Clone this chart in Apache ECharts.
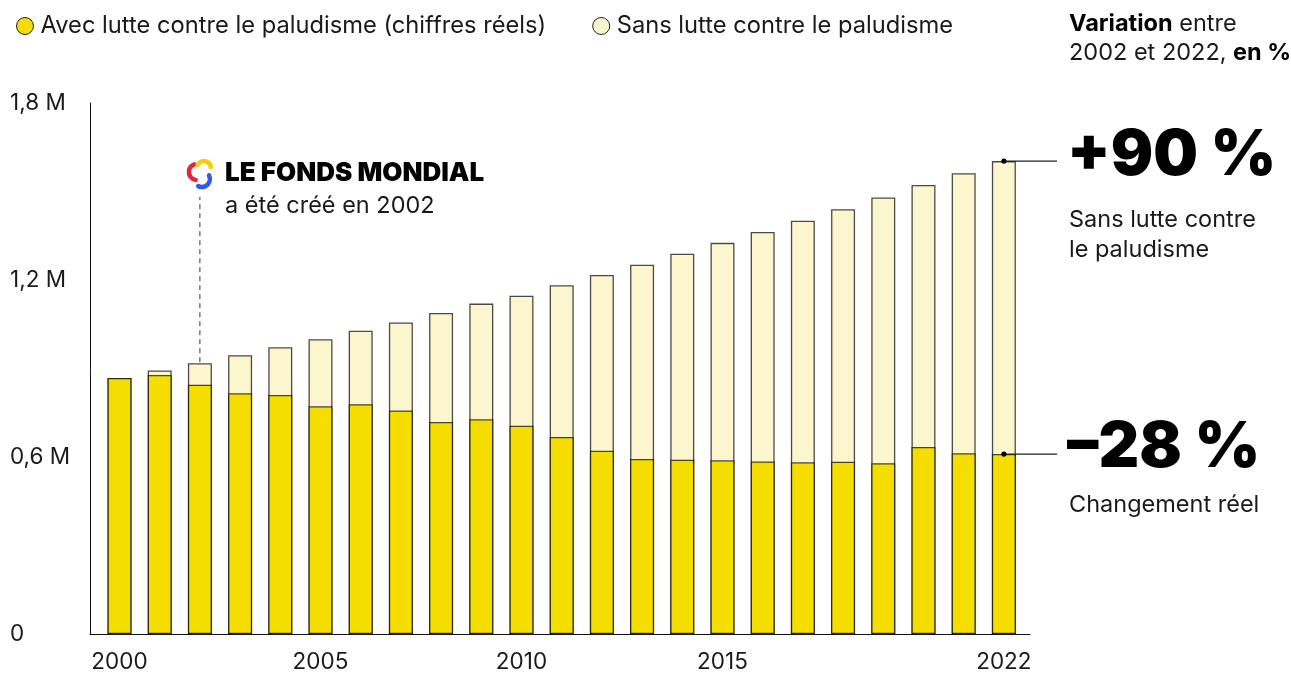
<!DOCTYPE html>
<html>
<head>
  <meta charset="utf-8">
  <title>Paludisme</title>
  <script src="https://cdn.jsdelivr.net/npm/echarts@6/dist/echarts.min.js"></script>
  <style>
    html, body { margin: 0; padding: 0; background: #fff; }
    #main { width: 1291px; height: 675px; }
  </style>
</head>
<body>
<div id="main"></div>
<script type="text/javascript">
  // années et valeurs (en millions de décès)
  var years = [2000, 2001, 2002, 2003, 2004, 2005, 2006, 2007, 2008, 2009, 2010,
               2011, 2012, 2013, 2014, 2015, 2016, 2017, 2018, 2019, 2020, 2021, 2022];
  var avecLutte = [0.868, 0.878, 0.845, 0.816, 0.810, 0.772, 0.779, 0.758, 0.719, 0.728, 0.706,
                   0.668, 0.621, 0.593, 0.591, 0.589, 0.585, 0.582, 0.584, 0.579, 0.634, 0.613, 0.610];
  var sansLutte = [0.868, 0.893, 0.918, 0.945, 0.972, 0.999, 1.028, 1.056, 1.088, 1.120, 1.147,
                   1.182, 1.217, 1.252, 1.289, 1.326, 1.363, 1.401, 1.440, 1.480, 1.522, 1.562, 1.603];
  var yTicks = [0, 0.6, 1.2, 1.8];
  var xTicks = [2000, 2005, 2010, 2015, 2022];

  var nomAvec = 'Avec lutte contre le paludisme (chiffres réels)';
  var nomSans = 'Sans lutte contre le paludisme';
  var police = 'Inter, "Noto Sans", sans-serif';
  var encre = '#1a1a1a';

  function paires(vals) {
    return years.map(function (y, i) { return [y, vals[i]]; });
  }

  var myChart = echarts.init(document.getElementById('main'));

  var option = {
    animation: false,
    textStyle: { fontFamily: police, color: encre },
    legend: {
      data: [nomAvec, nomSans],
      left: 11,
      top: 9,
      icon: 'circle',
      itemWidth: 17,
      itemHeight: 17,
      itemGap: 46,
      itemStyle: { borderColor: '#222', borderWidth: 1 },
      textStyle: { fontSize: 23.7, color: encre, fontFamily: police, padding: [0, 0, 0, 2] },
      selectedMode: false
    },
    grid: { left: 90, right: 261, top: 103, bottom: 41 },
    xAxis: {
      type: 'value',
      min: 1999.266,
      max: 2022.65,
      splitLine: { show: false },
      axisTick: { show: false },
      axisLine: { show: true, lineStyle: { color: '#111', width: 1 } },
      axisLabel: {
        customValues: xTicks,
        fontSize: 22.5,
        color: encre,
        margin: 17,
        formatter: function (v) { return String(v); }
      }
    },
    yAxis: {
      type: 'value',
      min: 0,
      max: 1.8,
      interval: 0.6,
      splitLine: { show: false },
      axisTick: { show: false },
      axisLine: { show: true, lineStyle: { color: '#111', width: 1 } },
      axisLabel: {
        customValues: yTicks,
        align: 'left',
        margin: 80,
        fontSize: 22.5,
        color: encre,
        formatter: function (v) {
          if (v === 0) return '0';
          return v.toFixed(1).replace('.', ',') + ' M';
        }
      }
    },
    series: [
      {
        name: nomSans,
        type: 'bar',
        barWidth: 24,
        barGap: '-100%',
        itemStyle: { color: '#FBF6CD', borderColor: 'rgba(0,0,0,0.7)', borderWidth: 1.3 },
        data: paires(sansLutte)
      },
      {
        name: nomAvec,
        type: 'bar',
        barWidth: 24,
        barGap: '-100%',
        itemStyle: { color: '#F5DD00', borderColor: 'rgba(0,0,0,0.7)', borderWidth: 1.3 },
        data: paires(avecLutte)
      }
    ]
  };

  myChart.setOption(option);

  // annotations placées à partir des échelles du graphique
  var i02 = years.indexOf(2002);
  var iFin = years.length - 1;
  var pt2002 = myChart.convertToPixel({ gridIndex: 0 }, [2002, sansLutte[i02]]);
  var ptSans = myChart.convertToPixel({ gridIndex: 0 }, [years[iFin], sansLutte[iFin]]);
  var ptAvec = myChart.convertToPixel({ gridIndex: 0 }, [years[iFin], avecLutte[iFin]]);
  var finTrait = 1057;
  var texteX = 1069;

  var logoX = pt2002[0] - 3, logoY = 174;

  myChart.setOption({
    graphic: [
      // pointillé 2002
      {
        type: 'line', z: 10,
        shape: { x1: pt2002[0], y1: pt2002[1] - 1, x2: pt2002[0], y2: 197 },
        style: { stroke: '#333', lineWidth: 1, lineDash: [5, 4] }
      },
      // logo du Fonds mondial (trois arcs)
      {
        type: 'arc', z: 10,
        shape: { cx: logoX, cy: logoY - 2, r: 8, startAngle: Math.PI * 0.55, endAngle: Math.PI * 1.4 },
        style: { stroke: '#E8243C', lineWidth: 4.5, fill: null, lineCap: 'round' }
      },
      {
        type: 'arc', z: 10,
        shape: { cx: logoX + 7, cy: logoY - 6, r: 7, startAngle: Math.PI * 1.15, endAngle: Math.PI * 1.95 },
        style: { stroke: '#F7CE00', lineWidth: 4.5, fill: null, lineCap: 'round' }
      },
      {
        type: 'arc', z: 10,
        shape: { cx: logoX + 5, cy: logoY + 5, r: 8, startAngle: Math.PI * 1.85, endAngle: Math.PI * 2.65 },
        style: { stroke: '#2F5BE8', lineWidth: 4.5, fill: null, lineCap: 'round' }
      },
      {
        type: 'text', z: 10, left: 225, top: 160,
        style: { text: 'LE FONDS MONDIAL', font: '900 26px ' + police, fill: '#000' }
      },
      {
        type: 'text', z: 10, left: 225, top: 194,
        style: { text: 'a été créé en 2002', font: '400 23.5px ' + police, fill: encre }
      },
      // bloc de droite
      {
        type: 'text', z: 10, left: texteX, top: 9,
        style: {
          text: '{b|Variation} entre\n2002 et 2022, {b|en %}',
          font: '400 23.5px ' + police, fill: encre, lineHeight: 29,
          rich: { b: { fontWeight: 700, fontSize: 23.5, fontFamily: police, fill: '#000', lineHeight: 29 } }
        }
      },
      {
        type: 'line', z: 10,
        shape: { x1: ptSans[0], y1: ptSans[1], x2: finTrait, y2: ptSans[1] },
        style: { stroke: '#222', lineWidth: 1.3 }
      },
      {
        type: 'circle', z: 11,
        shape: { cx: ptSans[0], cy: ptSans[1], r: 2.6 },
        style: { fill: '#000' }
      },
      {
        type: 'line', z: 10,
        shape: { x1: ptAvec[0], y1: ptAvec[1], x2: finTrait, y2: ptAvec[1] },
        style: { stroke: '#222', lineWidth: 1.3 }
      },
      {
        type: 'circle', z: 11,
        shape: { cx: ptAvec[0], cy: ptAvec[1], r: 2.6 },
        style: { fill: '#000' }
      },
      {
        type: 'text', z: 10, left: texteX - 2, top: 125,
        style: { text: '+90 %', font: '900 63px ' + police, fill: '#000' }
      },
      {
        type: 'text', z: 10, left: texteX, top: 205,
        style: { text: 'Sans lutte contre\nle paludisme', font: '400 23.5px ' + police, fill: encre, lineHeight: 30 }
      },
      {
        type: 'text', z: 10, left: texteX - 2, top: 417,
        style: { text: '–28 %', font: '900 63px ' + police, fill: '#000' }
      },
      {
        type: 'text', z: 10, left: texteX, top: 493,
        style: { text: 'Changement réel', font: '400 23.5px ' + police, fill: encre }
      }
    ]
  });
</script>
</body>
</html>
